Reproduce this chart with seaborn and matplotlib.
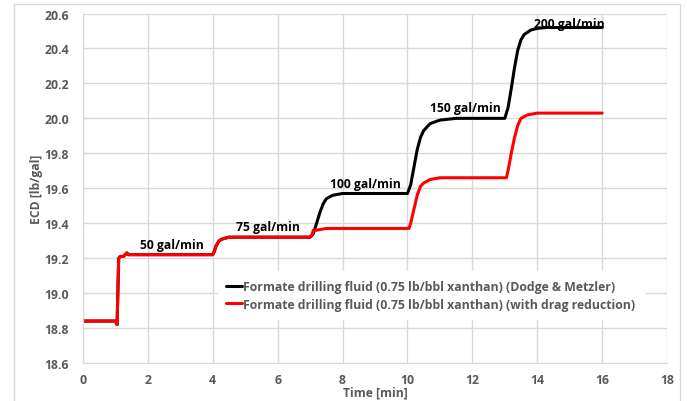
import numpy as np
import pandas as pd
import seaborn as sns
import matplotlib.pyplot as plt
from matplotlib.patches import Rectangle

# Data
time_black = [0, 1.0, 1.05, 1.1, 1.15, 1.25, 1.35, 1.4, 1.5, 2.0, 4.0, 4.05, 4.1, 4.2, 4.3, 4.5, 5.0,
              7.0, 7.1, 7.2, 7.3, 7.4, 7.5, 7.7, 8.0, 10.0, 10.1, 10.2, 10.3, 10.4, 10.5, 10.7, 11.0, 11.5,
              13.0, 13.1, 13.2, 13.3, 13.4, 13.5, 13.6, 13.8, 14.0, 14.3, 16.0]
ecd_black = [18.84, 18.84, 18.82, 19.20, 19.21, 19.21, 19.23, 19.22, 19.22, 19.22, 19.22, 19.24, 19.27, 19.30, 19.31, 19.32, 19.32,
             19.32, 19.34, 19.40, 19.46, 19.51, 19.54, 19.56, 19.57, 19.57, 19.62, 19.72, 19.82, 19.89, 19.93, 19.97, 19.99, 20.00,
             20.00, 20.06, 20.17, 20.29, 20.39, 20.45, 20.48, 20.505, 20.515, 20.52, 20.52]

time_red = [0, 1.0, 1.05, 1.1, 1.15, 1.25, 1.35, 1.4, 1.5, 2.0, 4.0, 4.05, 4.1, 4.2, 4.3, 4.5, 5.0,
            7.0, 7.05, 7.1, 7.2, 7.5, 8.0, 10.05, 10.1, 10.2, 10.3, 10.4, 10.5, 10.7, 11.0, 11.5,
            13.05, 13.1, 13.2, 13.3, 13.4, 13.5, 13.7, 14.0, 14.5, 16.0]
ecd_red = [18.84, 18.84, 18.82, 19.20, 19.21, 19.21, 19.23, 19.22, 19.22, 19.22, 19.22, 19.24, 19.27, 19.30, 19.31, 19.32, 19.32,
           19.32, 19.33, 19.36, 19.36, 19.37, 19.37, 19.37, 19.40, 19.48, 19.56, 19.61, 19.63, 19.65, 19.66, 19.66,
           19.66, 19.70, 19.80, 19.89, 19.96, 20.00, 20.02, 20.03, 20.03, 20.03]

labels = ["50 gal/min", "75 gal/min", "100 gal/min", "150 gal/min", "200 gal/min"]
label_x = [2.75, 5.7, 8.7, 11.8, 15.0]
label_y = [19.28, 19.38, 19.625, 20.06, 20.545]

series_names = ["Formate drilling fluid (0.75 lb/bbl xanthan) (Dodge & Metzler)",
                "Formate drilling fluid (0.75 lb/bbl xanthan) (with drag reduction)"]

df = pd.concat([
    pd.DataFrame({"t": time_black, "ecd": ecd_black, "s": series_names[0]}),
    pd.DataFrame({"t": time_red, "ecd": ecd_red, "s": series_names[1]}),
])

sns.set_style("whitegrid")
plt.rcParams['font.family'] = ['Open Sans', 'DejaVu Sans']

fig = plt.figure(figsize=(6.87, 4.02), dpi=100)
ax = fig.add_axes([83 / 687, 1 - 364 / 402, (667 - 83) / 687, (364 - 14.5) / 402])

sns.lineplot(data=df, x="t", y="ecd", hue="s", palette=["black", "#ff0000"],
             linewidth=2.2, ax=ax, sort=False, estimator=None)

gray = "#595959"
for txt, x, y in zip(labels, label_x, label_y):
    ax.text(x, y, txt, ha="center", va="center", fontsize=8.7, fontweight="bold", color="black")

ax.set_xlim(0, 18)
ax.set_ylim(18.6, 20.6)
ax.set_xticks(np.arange(0, 19, 2))
ax.set_yticks(np.arange(18.6, 20.61, 0.2))
ax.set_yticklabels([f"{v:.1f}" for v in np.arange(18.6, 20.61, 0.2)])
ax.grid(True, color="#d9d9d9", linewidth=1)
for sp in ["top", "right"]:
    ax.spines[sp].set_visible(False)
for sp in ["left", "bottom"]:
    ax.spines[sp].set_color("#d9d9d9")
ax.tick_params(axis="y", colors=gray, labelsize=8.8, length=0, pad=10)
ax.tick_params(axis="x", colors=gray, labelsize=8.8, length=0, pad=7)
for lab in ax.get_xticklabels() + ax.get_yticklabels():
    lab.set_fontweight("bold")
ax.set_xlabel("Time [min]", fontsize=8.7, fontweight="bold", color=gray, labelpad=0)
ax.set_ylabel("ECD [lb/gal]", fontsize=8.7, fontweight="bold", color=gray, labelpad=1)

leg = ax.legend(loc="upper left", bbox_to_anchor=(0.22, 0.28), frameon=True, fontsize=8.8,
                handlelength=1.3, handletextpad=0.1, borderpad=0.7, labelspacing=0.4)
leg.get_frame().set_edgecolor("white")
leg.get_frame().set_facecolor("white")
leg.get_frame().set_alpha(1)
for t in leg.get_texts():
    t.set_color(gray)
    t.set_fontweight("bold")

fig.patches.append(Rectangle((14 / 687, -0.05), (680 - 14) / 687, 1.05 - 5 / 402,
                             transform=fig.transFigure, fill=False, edgecolor="#d9d9d9", linewidth=1))

fig.savefig("out.png", dpi=100)
